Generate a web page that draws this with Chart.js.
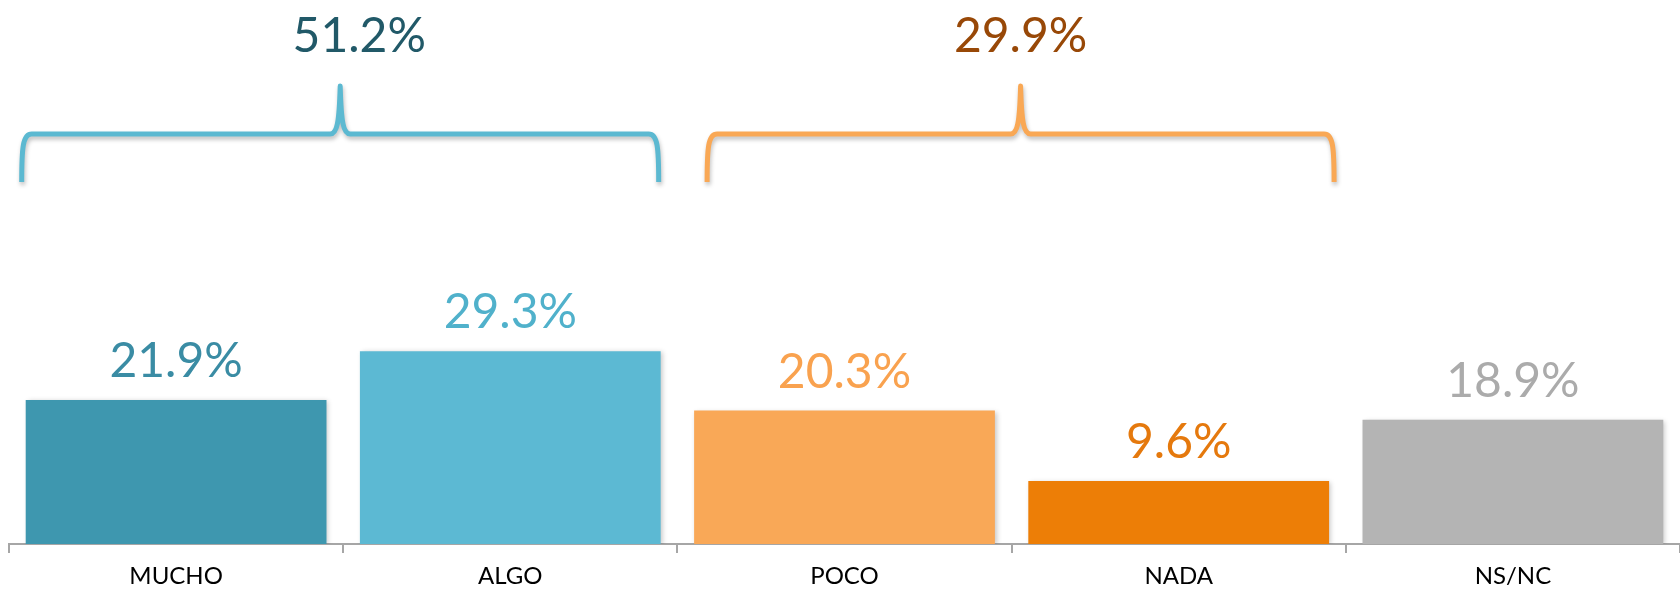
<!DOCTYPE html>
<html>
<head>
<meta charset="utf-8">
<script src="https://cdn.jsdelivr.net/npm/chart.js@4"></script>
<style>
html,body{margin:0;padding:0;background:#fff;}
#wrap{width:1680px;height:591px;position:relative;}
</style>
</head>
<body>
<div id="wrap"><canvas id="c" width="1680" height="591"></canvas></div>
<script>
const categories = ['MUCHO', 'ALGO', 'POCO', 'NADA', 'NS/NC'];
const values = [21.9, 29.3, 20.3, 9.6, 18.9];
const valueLabels = ['21.9%', '29.3%', '20.3%', '9.6%', '18.9%'];
const groupLabels = ['51.2%', '29.9%'];
const groupStart = [0, 2];
const groupEnd = [1, 3];

const barColors = ['#3E97AF', '#5CB9D3', '#F9A857', '#ED7E06', '#B4B4B4'];
const labelColors = ['#3A8CA4', '#50B1CB', '#F9A24F', '#E5790D', '#ABABAB'];
const braceColors = ['#5CB9D1', '#F9A855'];
const groupLabelColors = ['#215968', '#984807'];
const FONT = 'Lato, "Open Sans", sans-serif';

const barShadow = {
  id: 'barShadow',
  beforeDatasetsDraw(chart) {
    const ctx = chart.ctx;
    ctx.save();
    ctx.shadowColor = 'rgba(0,0,0,0.22)';
    ctx.shadowBlur = 5;
    ctx.shadowOffsetX = 2;
    ctx.shadowOffsetY = 1;
  },
  afterDatasetsDraw(chart) {
    chart.ctx.restore();
  }
};

const overlay = {
  id: 'overlay',
  afterDraw(chart) {
    const ctx = chart.ctx;
    const meta = chart.getDatasetMeta(0);
    ctx.save();
    // value labels
    ctx.font = '48px ' + FONT;
    ctx.textAlign = 'center';
    ctx.textBaseline = 'alphabetic';
    meta.data.forEach((bar, i) => {
      ctx.fillStyle = labelColors[i];
      ctx.fillText(valueLabels[i], bar.x, bar.y - 23);
    });
    // braces
    const dl = [-4, 13], dr = [-2, 5], ldx = [19, 0];
    const yLeg = 182, yH = 134, yPeak = 86;
    groupLabels.forEach((lab, g) => {
      const b0 = meta.data[groupStart[g]], b1 = meta.data[groupEnd[g]];
      const x0 = b0.x - b0.width / 2 + dl[g];
      const x1 = b1.x + b1.width / 2 + dr[g];
      const xm = (x0 + x1) / 2;
      ctx.save();
      ctx.shadowColor = 'rgba(0,0,0,0.25)';
      ctx.shadowBlur = 4;
      ctx.shadowOffsetX = 1;
      ctx.shadowOffsetY = 3;
      ctx.strokeStyle = braceColors[g];
      ctx.lineWidth = 5;
      ctx.lineCap = 'butt';
      ctx.lineJoin = 'round';
      ctx.beginPath();
      ctx.moveTo(x0, yLeg);
      ctx.bezierCurveTo(x0, yH + 14, x0 + 1, yH, x0 + 10, yH);
      ctx.lineTo(xm - 10, yH);
      ctx.bezierCurveTo(xm - 3, yH, xm - 1, yH - 12, xm, yPeak);
      ctx.bezierCurveTo(xm + 1, yH - 12, xm + 3, yH, xm + 10, yH);
      ctx.lineTo(x1 - 10, yH);
      ctx.bezierCurveTo(x1 - 1, yH, x1, yH + 14, x1, yLeg);
      ctx.stroke();
      ctx.restore();
      ctx.fillStyle = groupLabelColors[g];
      ctx.font = '48px ' + FONT;
      ctx.textAlign = 'center';
      ctx.textBaseline = 'alphabetic';
      ctx.fillText(lab, xm + ldx[g], 52);
    });
    ctx.restore();
  }
};

new Chart(document.getElementById('c'), {
  type: 'bar',
  data: {
    labels: categories,
    datasets: [{
      data: values,
      backgroundColor: barColors,
      borderWidth: 0,
      categoryPercentage: 1.0,
      barPercentage: 0.9
    }]
  },
  options: {
    responsive: false,
    animation: false,
    devicePixelRatio: 1,
    layout: { padding: { left: 9, right: 0, top: 18, bottom: 0 } },
    plugins: { legend: { display: false }, tooltip: { enabled: false } },
    scales: {
      x: {
        offset: true,
        afterFit(scale) { scale.height = 47; },
        grid: {
          display: true,
          drawOnChartArea: false,
          drawTicks: true,
          tickLength: 9,
          color: '#A6A6A6',
          lineWidth: 2,
          offset: true
        },
        border: { display: true, color: '#A6A6A6', width: 2 },
        ticks: {
          color: '#000000',
          padding: 9,
          font: { family: FONT, size: 24 }
        }
      },
      y: {
        display: false,
        min: 0,
        max: 80
      }
    }
  },
  plugins: [barShadow, overlay]
});
</script>
</body>
</html>
